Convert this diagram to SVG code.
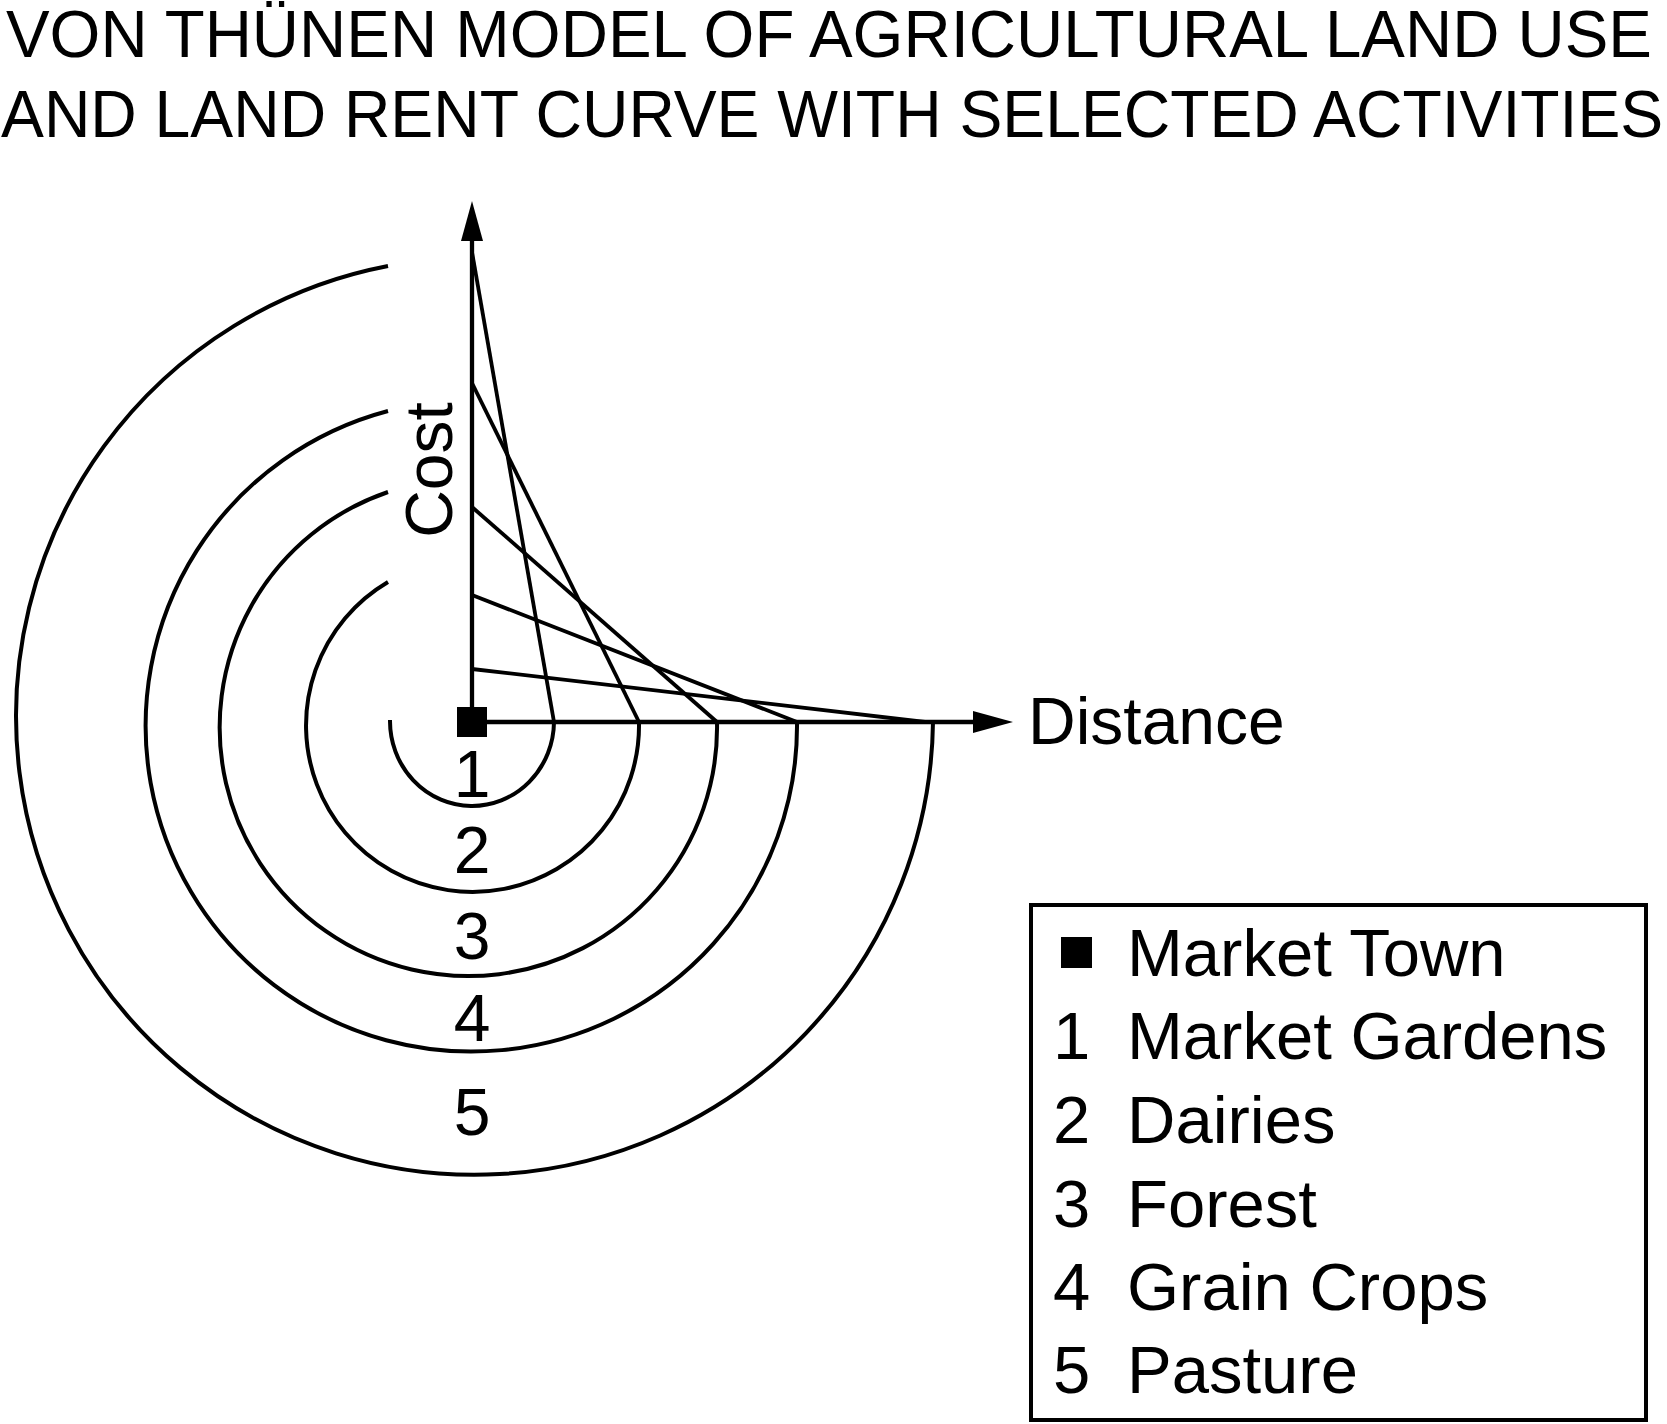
<svg xmlns="http://www.w3.org/2000/svg" width="1667" height="1424" viewBox="0 0 1667 1424">
  <style>
    text { font-family: "Liberation Sans", Arial, Helvetica, sans-serif; fill: #000; }
    .lbl { font-size: 66px; }
    .leg { font-size: 67px; }
    .ring { fill: none; stroke: #000; stroke-width: 4; }
    .rent { fill: none; stroke: #000; stroke-width: 3.8; }
    .axis { fill: none; stroke: #000; stroke-width: 4.3; }
  </style>
  <defs>
    <marker id="arrow" markerUnits="userSpaceOnUse" markerWidth="42" markerHeight="24" refX="3" refY="11" orient="auto">
      <path d="M0,0 L40,11 L0,22 Z" fill="#000"/>
    </marker>
  </defs>
  <rect width="1667" height="1424" fill="#fff"/>

  <g id="title">
    <text transform="translate(6,57) scale(1,1.009)" x="0" y="0" font-size="65.4">VON THÜNEN MODEL OF AGRICULTURAL LAND USE</text>
    <text transform="translate(1,137) scale(1,1.026)" x="0" y="0" font-size="64.3">AND LAND RENT CURVE WITH SELECTED ACTIVITIES</text>
  </g>

  <g id="rings">
    <path id="ring1" class="ring" d="M390,720 A82,85 0 0 0 554,722"/>
    <path id="ring2" class="ring" d="M388,582 A166.5,166.5 0 1 0 639,722"/>
    <path id="ring3" class="ring" d="M388,492 A248.7,248.7 0 1 0 717,722"/>
    <path id="ring4" class="ring" d="M388,411 A325.7,325.7 0 1 0 797,722"/>
    <path id="ring5" class="ring" d="M388,266 A458.5,458.5 0 1 0 933,722"/>
  </g>

  <g id="connectors">
    <line class="axis" x1="472" y1="722" x2="472" y2="238" marker-end="url(#arrow)"/>
    <line class="axis" x1="472" y1="722" x2="976" y2="722" marker-end="url(#arrow)"/>
    <line class="rent" x1="472" y1="252" x2="554" y2="722"/>
    <line class="rent" x1="472" y1="383" x2="639" y2="722"/>
    <line class="rent" x1="472" y1="507" x2="717" y2="722"/>
    <line class="rent" x1="472" y1="595" x2="797" y2="722"/>
    <line class="rent" x1="472" y1="669" x2="925" y2="722"/>
  </g>

  <g id="market-town">
    <rect x="457" y="707" width="30" height="30" fill="#000"/>
  </g>

  <g id="axis-labels">
    <text class="lbl" transform="translate(452,470) rotate(-90)" text-anchor="middle">Cost</text>
    <text class="lbl" x="1028" y="744">Distance</text>
  </g>

  <g id="zone-numbers">
    <text class="lbl" x="472" y="797" text-anchor="middle">1</text>
    <text class="lbl" x="472" y="873" text-anchor="middle">2</text>
    <text class="lbl" x="472" y="959" text-anchor="middle">3</text>
    <text class="lbl" x="472" y="1041" text-anchor="middle">4</text>
    <text class="lbl" x="472" y="1135" text-anchor="middle">5</text>
  </g>

  <g id="legend">
    <rect x="1031" y="905" width="615" height="515" fill="none" stroke="#000" stroke-width="4"/>
    <rect x="1061" y="937" width="31" height="31" fill="#000"/>
    <text class="leg" x="1127" y="976">Market Town</text>
    <text class="leg" x="1053" y="1059">1</text>
    <text class="leg" x="1127" y="1059">Market Gardens</text>
    <text class="leg" x="1053" y="1143">2</text>
    <text class="leg" x="1127" y="1143">Dairies</text>
    <text class="leg" x="1053" y="1227">3</text>
    <text class="leg" x="1127" y="1227">Forest</text>
    <text class="leg" x="1053" y="1310">4</text>
    <text class="leg" x="1127" y="1310">Grain Crops</text>
    <text class="leg" x="1053" y="1393">5</text>
    <text class="leg" x="1127" y="1393">Pasture</text>
  </g>
</svg>
